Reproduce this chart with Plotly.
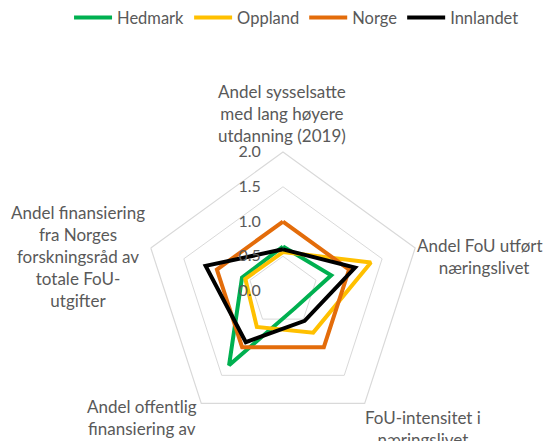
import plotly.graph_objects as go

# Axes (clockwise from top)
categories = [
    "Andel sysselsatte<br>med lang høyere<br>utdanning (2019)",
    "Andel FoU utført i<br>næringslivet",
    "FoU-intensitet i<br>næringslivet",
    "Andel offentlig<br>finansiering av<br>FoU",
    "Andel finansiering<br>fra Norges<br>forskningsråd av<br>totale FoU-<br>utgifter",
]
# where each axis title sits on the page (paper coords)
label_pos = [(0.502, 0.757), (0.873, 0.426), (0.762, 0.029), (0.246, 0.028), (0.128, 0.425)]

hedmark = [0.64, 0.73, 0.30, 1.32, 0.62]
oppland = [0.56, 1.33, 0.74, 0.64, 0.57]
norge = [1.0, 1.0, 1.0, 1.0, 1.0]
innlandet = [0.60, 1.09, 0.53, 0.91, 1.17]

radial_ticks = [0.0, 0.5, 1.0, 1.5, 2.0]

series = [
    ("Hedmark", hedmark, "#00B050"),
    ("Oppland", oppland, "#FFC000"),
    ("Norge", norge, "#E36C0A"),
    ("Innlandet", innlandet, "#000000"),
]

fig = go.Figure()
for name, vals, col in series:
    fig.add_trace(go.Scatterpolar(
        r=vals + vals[:1],
        theta=categories + categories[:1],
        mode="lines",
        name=name,
        line=dict(color=col, width=4),
    ))

grey = "#595959"

for txt, (x, y) in zip(categories, label_pos):
    fig.add_annotation(
        text=txt, x=x, y=y, xref="paper", yref="paper",
        xanchor="center", yanchor="middle", align="center",
        showarrow=False, font=dict(size=17, color=grey),
    )

# page body has an 8px margin, so the figure is 8px smaller than the window
fig.update_layout(
    width=545,
    height=433,
    margin=dict(l=0, r=0, t=0, b=0, autoexpand=False),
    paper_bgcolor="white",
    font=dict(family="Lato", size=15, color=grey),
    legend=dict(
        orientation="h",
        x=0.112, xanchor="left",
        y=1.018, yanchor="top",
        itemwidth=38,
        font=dict(size=16.5, color=grey),
    ),
    polar=dict(
        domain=dict(x=[0.2495, 0.7596], y=[0.0254, 0.6674]),
        bgcolor="white",
        gridshape="linear",
        radialaxis=dict(
            range=[0, 2],
            tickvals=radial_ticks,
            ticktext=[f"{v:.1f}" for v in radial_ticks],
            angle=90,
            tickangle=90,
            side="counterclockwise",
            showline=False,
            ticks="outside",
            ticklen=16,
            tickcolor="rgba(0,0,0,0)",
            gridcolor="#d9d9d9",
            gridwidth=1.2,
            tickfont=dict(size=16, color=grey),
        ),
        angularaxis=dict(
            rotation=90,
            direction="clockwise",
            showgrid=False,
            showticklabels=False,
            linecolor="#d9d9d9",
            linewidth=1.2,
            ticks="",
        ),
    ),
)

fig.write_html("out.html")
